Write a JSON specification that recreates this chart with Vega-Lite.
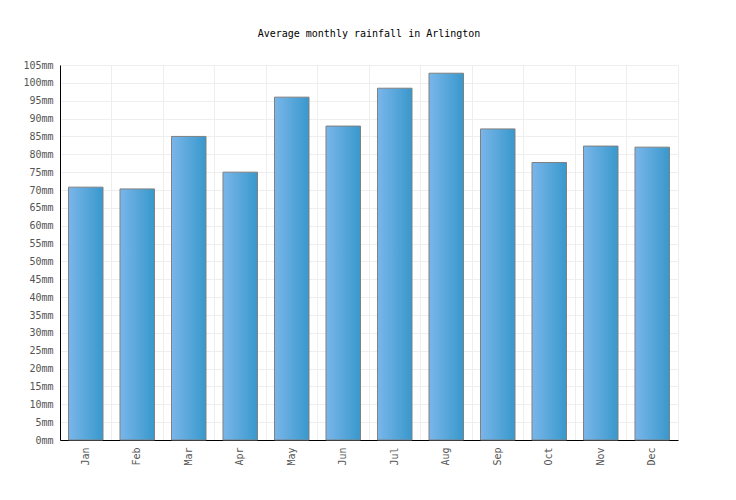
{
  "$schema": "https://vega.github.io/schema/vega-lite/v6.json",
  "autosize": "none",
  "width": 618,
  "height": 375,
  "padding": {"left": 60, "top": 65, "right": 58, "bottom": 60},
  "background": "white",
  "title": {
    "text": "Average monthly rainfall in Arlington",
    "font": "DejaVu Sans Mono",
    "fontSize": 10,
    "fontWeight": "normal",
    "color": "#000000",
    "anchor": "middle",
    "offset": 21
  },
  "data": {
    "values": [
      {"month": "Jan", "rain": 70.8},
      {"month": "Feb", "rain": 70.3},
      {"month": "Mar", "rain": 85.0},
      {"month": "Apr", "rain": 75.0},
      {"month": "May", "rain": 96.0},
      {"month": "Jun", "rain": 87.9},
      {"month": "Jul", "rain": 98.5},
      {"month": "Aug", "rain": 102.7},
      {"month": "Sep", "rain": 87.1},
      {"month": "Oct", "rain": 77.7},
      {"month": "Nov", "rain": 82.3},
      {"month": "Dec", "rain": 82.0}
    ]
  },
  "mark": {
    "type": "bar",
    "stroke": "#808080",
    "strokeWidth": 1,
    "color": {
      "gradient": "linear",
      "x1": 0, "y1": 0, "x2": 1, "y2": 0,
      "stops": [
        {"offset": 0, "color": "#7ab6ea"},
        {"offset": 1, "color": "#3898cc"}
      ]
    }
  },
  "encoding": {
    "x": {
      "field": "month",
      "type": "nominal",
      "sort": null,
      "scale": {"paddingInner": 0.33, "paddingOuter": 0.165},
      "axis": {
        "title": null,
        "labelAngle": -90,
        "labelPadding": 7,
        "ticks": false,
        "grid": true,
        "bandPosition": -0.246,
        "gridColor": "#eeeeee",
        "domainColor": "#000000"
      }
    },
    "y": {
      "field": "rain",
      "type": "quantitative",
      "scale": {"domain": [0, 105], "nice": false},
      "axis": {
        "title": null,
        "values": [0, 5, 10, 15, 20, 25, 30, 35, 40, 45, 50, 55, 60, 65, 70, 75, 80, 85, 90, 95, 100, 105],
        "labelExpr": "datum.value + 'mm'",
        "labelPadding": 7,
        "ticks": false,
        "gridColor": "#eeeeee",
        "domainColor": "#000000"
      }
    }
  },
  "config": {
    "view": {"stroke": "#eeeeee"},
    "axis": {
      "labelFont": "DejaVu Sans Mono",
      "labelFontSize": 10,
      "labelColor": "#555555",
      "domainWidth": 1,
      "gridWidth": 1
    }
  }
}
